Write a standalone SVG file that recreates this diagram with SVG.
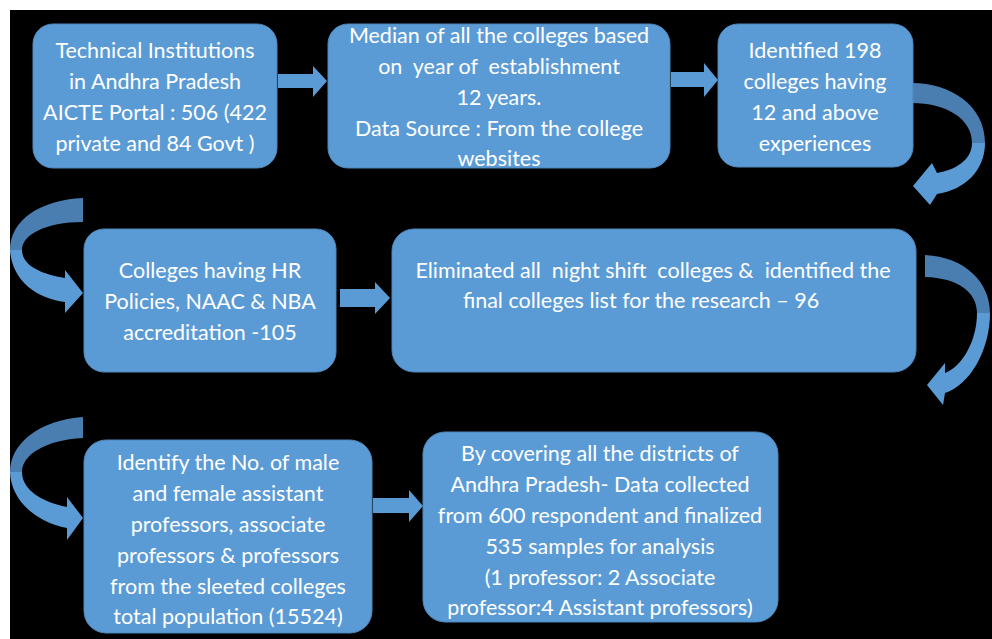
<svg xmlns="http://www.w3.org/2000/svg" width="992" height="639" viewBox="0 0 992 639">
<style>
.box{fill:#5b9bd5;stroke:#4f87ba;stroke-width:1}
.arr{fill:#5b9bd5}
.dark{fill:#4a7db0}
text{font-family:Lato,"Liberation Sans",sans-serif;font-size:21.5px;fill:#ffffff;text-anchor:middle;white-space:pre}
</style>
<rect x="0" y="0" width="992" height="639" fill="#ffffff"/>
<rect x="10" y="10" width="982" height="629" fill="#000000"/>
<g id="connectors">
<polygon class="arr" points="278,74 313,74 313,66 327,81 313,97 313,88 278,88"/>
<polygon class="arr" points="671,72 704,72 704,63 718,80 704,97 704,87 671,87"/>
<polygon class="arr" points="340,289 375,289 375,282 390,298 375,314 375,307 340,307"/>
<polygon class="arr" points="373,498 409,498 409,490 423,506 409,522 409,513 373,513"/>
<path class="dark" d="M912,83 C950,83 985,105 985,143 L972,143 C972,118 945,103 912,103 Z"/>
<path class="arr" d="M985,143 C985,170 965,190 937,194 L930,205 L913,186 L932,163 L937,173 C955,170 972,160 972,143 Z"/>
<path class="dark" d="M83,198 C40,200 10,220 10,250 L22,250 C22,235 45,222 83,222 Z"/>
<path class="arr" d="M10,250 C12,280 35,298 65,302 L65,313 L83,293 L65,270 L65,278 C40,274 22,265 22,250 Z"/>
<path class="dark" d="M925,255 C965,257 990,282 990,313 L977,313 C977,292 958,278 925,277 Z"/>
<path class="arr" d="M990,313 C990,350 970,385 945,393 L943,405 L927,385 L945,363 L945,373 C963,366 977,340 977,313 Z"/>
<path class="dark" d="M83,417 C40,420 10,443 10,472 L22,472 C22,455 45,440 83,438 Z"/>
<path class="arr" d="M10,472 C11,500 35,522 67,528 L67,540 L83,518 L67,497 L67,507 C42,502 22,490 22,472 Z"/>
</g>
<g id="n1">
<rect class="box" x="33" y="24" width="244" height="144" rx="20"/>
<text x="155" y="58">Technical Institutions</text>
<text x="155" y="89">in Andhra Pradesh</text>
<text x="155" y="120">AICTE Portal : 506 (422</text>
<text x="155" y="151">private and 84 Govt )</text>
</g>
<g id="n2">
<rect class="box" x="328" y="24" width="342" height="144" rx="20"/>
<text x="499" y="43">Median of all the colleges based</text>
<text x="499" y="74">on  year of  establishment</text>
<text x="499" y="105">12 years.</text>
<text x="499" y="136">Data Source : From the college</text>
<text x="499" y="166">websites</text>
</g>
<g id="n3">
<rect class="box" x="718" y="24" width="195" height="143" rx="20"/>
<text x="815" y="58">Identified 198</text>
<text x="815" y="89">colleges having</text>
<text x="815" y="120">12 and above</text>
<text x="815" y="151">experiences</text>
</g>
<g id="n4">
<rect class="box" x="84" y="229" width="252" height="143" rx="20"/>
<text x="210" y="278">Colleges having HR</text>
<text x="210" y="309">Policies, NAAC &amp; NBA</text>
<text x="210" y="340">accreditation -105</text>
</g>
<g id="n5">
<rect class="box" x="392" y="229" width="524" height="143" rx="22"/>
<text x="653" y="278">Eliminated all  night shift  colleges &amp;  identified the</text>
<text x="641" y="308">final colleges list for the research – 96</text>
</g>
<g id="n6">
<rect class="box" x="84" y="440" width="288" height="193" rx="22"/>
<text x="228" y="470">Identify the No. of male</text>
<text x="228" y="501">and female assistant</text>
<text x="228" y="532">professors, associate</text>
<text x="228" y="563">professors &amp; professors</text>
<text x="228" y="594">from the sleeted colleges</text>
<text x="228" y="624">total population (15524)</text>
</g>
<g id="n7">
<rect class="box" x="423" y="432" width="355" height="190" rx="22"/>
<text x="600" y="461">By covering all the districts of</text>
<text x="600" y="492">Andhra Pradesh- Data collected</text>
<text x="600" y="523">from 600 respondent and finalized</text>
<text x="600" y="554">535 samples for analysis</text>
<text x="600" y="585">(1 professor: 2 Associate</text>
<text x="600" y="615">professor:4 Assistant professors)</text>
</g>
</svg>
